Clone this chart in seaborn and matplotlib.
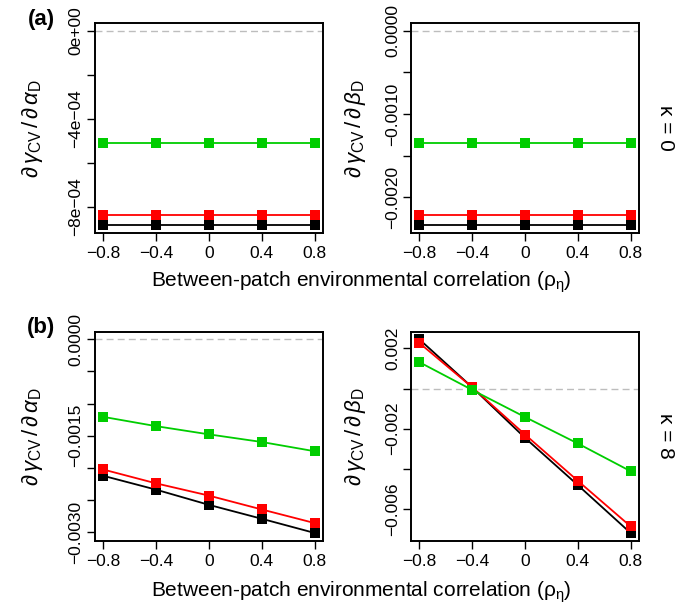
import matplotlib
matplotlib.use("Agg")
import matplotlib.pyplot as plt
import matplotlib.ticker as mticker
import numpy as np
import pandas as pd
import seaborn as sns

# between-patch environmental correlation
rho = [-0.8, -0.4, 0.0, 0.4, 0.8]
series_names = ["black", "red", "green"]

# (a) kappa = 0, d gamma / d alpha_D
a_alpha_black = [-8.83e-4, -8.83e-4, -8.83e-4, -8.83e-4, -8.83e-4]
a_alpha_red = [-8.36e-4, -8.36e-4, -8.36e-4, -8.36e-4, -8.36e-4]
a_alpha_green = [-5.11e-4, -5.11e-4, -5.11e-4, -5.11e-4, -5.11e-4]

# (a) kappa = 0, d gamma / d beta_D
a_beta_black = [-0.002336, -0.002336, -0.002336, -0.002336, -0.002336]
a_beta_red = [-0.002212, -0.002212, -0.002212, -0.002212, -0.002212]
a_beta_green = [-0.001352, -0.001352, -0.001352, -0.001352, -0.001352]

# (b) kappa = 8, d gamma / d alpha_D
b_alpha_black = [-0.002124, -0.002340, -0.002577, -0.002794, -0.003015]
b_alpha_red = [-0.002026, -0.002242, -0.002433, -0.002649, -0.002861]
b_alpha_green = [-0.001206, -0.001351, -0.001479, -0.001598, -0.001742]

# (b) kappa = 8, d gamma / d beta_D
b_beta_black = [0.002453, 0.000066, -0.002453, -0.004807, -0.007193]
b_beta_red = [0.002272, 0.000066, -0.002288, -0.004593, -0.006864]
b_beta_green = [0.001317, -0.000066, -0.001416, -0.002733, -0.004115]

palette = {"black": "#000000", "red": "#ff0000", "green": "#00cd00"}

sns.set_style("white")
plt.rcParams["font.family"] = ["Liberation Sans", "DejaVu Sans"]
plt.rcParams["mathtext.fontset"] = "custom"
plt.rcParams["mathtext.rm"] = "Liberation Sans"
plt.rcParams["mathtext.it"] = "Liberation Sans:italic"
plt.rcParams["mathtext.bf"] = "Liberation Sans:bold"
for key in ["text.color", "axes.labelcolor", "xtick.color", "ytick.color"]:
    plt.rcParams[key] = "black"


def make_df(black, red, green):
    rows = []
    for name, vals in zip(series_names, [black, red, green]):
        for x, y in zip(rho, vals):
            rows.append({"rho": x, "value": y, "series": name})
    return pd.DataFrame(rows)


def r_ylim(values):
    lo = min(min(values), 0.0)
    hi = max(max(values), 0.0)
    pad = 0.04 * (hi - lo)
    return lo - pad, hi + pad


def draw_panel(ax, df, ticks, labelled, fmt, ylabel):
    ax.axhline(0, color="#bdbdbd", lw=1.0, ls=(0, (5, 3)), zorder=1)
    sns.lineplot(data=df, x="rho", y="value", hue="series", palette=palette,
                 hue_order=series_names, marker="s", markersize=6.5,
                 markeredgewidth=0, lw=1.3, legend=False, ax=ax, zorder=3)
    ax.set_xlim(-0.864, 0.864)
    ax.set_ylim(*r_ylim(df["value"]))
    ax.set_xticks(rho)
    ax.set_xticklabels(["\u22120.8", "\u22120.4", "0", "0.4", "0.8"])
    ax.yaxis.set_major_locator(mticker.FixedLocator(ticks))
    ax.set_yticklabels([fmt(t) if t in labelled else "" for t in ticks])
    ax.tick_params(axis="both", direction="out", length=6, width=1.0,
                   labelsize=12.5, left=True, bottom=True, color="black")
    ax.tick_params(axis="y", labelrotation=90, pad=2)
    for lab in ax.get_yticklabels():
        lab.set_va("center")
    for s in ax.spines.values():
        s.set_color("black")
        s.set_linewidth(1.4)
    ax.set_xlabel("")
    ax.set_ylabel(ylabel, fontsize=16)


fig = plt.figure(figsize=(6.89, 6.09), dpi=100)
ax1 = fig.add_axes([0.1372, 0.6174, 0.3316, 0.3448])
ax2 = fig.add_axes([0.5965, 0.6174, 0.3309, 0.3448])
ax3 = fig.add_axes([0.1372, 0.1122, 0.3316, 0.3432])
ax4 = fig.add_axes([0.5965, 0.1122, 0.3309, 0.3432])

lab_alpha = r"$\partial\,\gamma_{\rm CV}\,/\,\partial\,\alpha_{\rm D}$"
lab_beta = r"$\partial\,\gamma_{\rm CV}\,/\,\partial\,\beta_{\rm D}$"

t1 = [0.0, -2e-4, -4e-4, -6e-4, -8e-4]
draw_panel(ax1, make_df(a_alpha_black, a_alpha_red, a_alpha_green), t1,
           [0.0, -4e-4, -8e-4],
           lambda t: {0.0: "0e+00", -4e-4: "\u22124e\u221204", -8e-4: "\u22128e\u221204"}[t],
           lab_alpha)

t2 = [0.0, -0.0005, -0.0010, -0.0015, -0.0020]
draw_panel(ax2, make_df(a_beta_black, a_beta_red, a_beta_green), t2,
           [0.0, -0.0010, -0.0020],
           lambda t: f"{t:.4f}".replace("-", "\u2212"), lab_beta)

t3 = [0.0, -0.0005, -0.0010, -0.0015, -0.0020, -0.0025, -0.0030]
draw_panel(ax3, make_df(b_alpha_black, b_alpha_red, b_alpha_green), t3,
           [0.0, -0.0015, -0.0030],
           lambda t: f"{t:.4f}".replace("-", "\u2212"), lab_alpha)

t4 = [0.002, 0.0, -0.002, -0.004, -0.006]
draw_panel(ax4, make_df(b_beta_black, b_beta_red, b_beta_green), t4,
           [0.002, -0.002, -0.006],
           lambda t: f"{t:.3f}".replace("-", "\u2212"), lab_beta)

for ax in (ax1, ax3):
    ax.yaxis.set_label_coords(-0.215, 0.5)
for ax in (ax2, ax4):
    ax.yaxis.set_label_coords(-0.19, 0.5)

xlab = r"Between-patch environmental correlation ($\rm\rho_\eta$)"
fig.text(0.525, 1 - 282 / 609, xlab, ha="center", va="center", fontsize=15)
fig.text(0.525, 1 - 592 / 609, xlab, ha="center", va="center", fontsize=15)

fig.text(41 / 689, 1 - 20 / 609, "(a)", ha="center", va="center",
         fontsize=16, fontweight="bold")
fig.text(41 / 689, 1 - 328 / 609, "(b)", ha="center", va="center",
         fontsize=16, fontweight="bold")

fig.text(665 / 689, 1 - 128 / 609, "\u03ba = 0", rotation=-90,
         ha="center", va="center", fontsize=15)
fig.text(665 / 689, 1 - 436 / 609, "\u03ba = 8", rotation=-90,
         ha="center", va="center", fontsize=15)

fig.savefig("out.png", dpi=100)
